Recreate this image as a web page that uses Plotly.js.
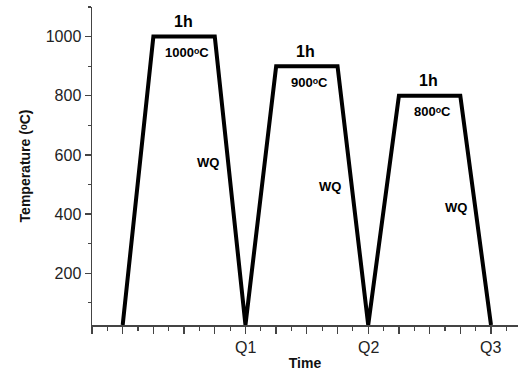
<!DOCTYPE html>
<html>
<head>
<meta charset="utf-8">
<script src="https://cdn.plot.ly/plotly-3.0.1.min.js"></script>
<style>html,body{margin:0;padding:0;background:#fff;}#chart{width:518px;height:371px;}</style>
</head>
<body>
<div id="chart"></div>
<script>
// Heat-treatment schedule (time in arbitrary units, temperature in °C)
const timePts = [1, 2, 4, 5, 6, 8, 9, 10, 12, 13];
const tempPts = [25, 1000, 1000, 25, 900, 900, 25, 800, 800, 25];

// Plateaus
const plateauTemps = [1000, 900, 800];
const plateauMid = [3, 7, 11];
const holdLabel = "1h";

// Quench labels (WQ) positions
const wqX = [3.78, 7.75, 11.86];
const wqY = [574, 493, 422];

// x tick labels
const quenchTicks = [5, 9, 13];
const quenchNames = ["Q1", "Q2", "Q3"];

const yTicks = [200, 400, 600, 800, 1000];

const font = "Liberation Sans, Arial, sans-serif";
const degO = "\u1D52";

const annotations = [];
plateauTemps.forEach((t, i) => {
  annotations.push({x: plateauMid[i], y: t, text: "<b>" + holdLabel + "</b>", showarrow: false,
    yshift: 15, xshift: -1, font: {family: font, size: 16, color: "#000"}});
  annotations.push({x: plateauMid[i], y: t, text: "<b>" + t + degO + "C</b>", showarrow: false,
    yshift: -16, xshift: 3, font: {family: font, size: 13, color: "#000"}});
});
wqX.forEach((x, i) => {
  annotations.push({x: x, y: wqY[i], text: "<b>WQ</b>", showarrow: false,
    font: {family: font, size: 13, color: "#000"}});
});
quenchTicks.forEach((x, i) => {
  annotations.push({x: x, xref: "x", y: 0, yref: "paper", yanchor: "top", yshift: -12,
    text: quenchNames[i], showarrow: false, font: {family: font, size: 16, color: "#222"}});
});

const data = [{
  x: timePts, y: tempPts, type: "scatter", mode: "lines",
  line: {color: "#000", width: 4, shape: "linear"},
  hoverinfo: "none"
}];

const layout = {
  width: 518, height: 371,
  margin: {l: 92, r: 0, t: 7, b: 46},
  paper_bgcolor: "#fff", plot_bgcolor: "#fff",
  showlegend: false,
  font: {family: font, color: "#222"},
  xaxis: {
    range: [0, 13.88], showgrid: false, zeroline: false,
    showline: true, linecolor: "#444", linewidth: 1.5,
    ticks: "outside", ticklen: 7, tickwidth: 1.3, tickcolor: "#444",
    tick0: 0, dtick: 1, showticklabels: false,
    minor: {dtick: 0.5, tick0: 0, ticks: "outside", ticklen: 4, tickwidth: 1.2, tickcolor: "#444", showgrid: false},
    title: {text: "<b>Time</b>", font: {size: 14, color: "#111"}, standoff: 26}
  },
  yaxis: {
    range: [25, 1100], showgrid: false, zeroline: false,
    showline: true, linecolor: "#444", linewidth: 1.5,
    ticks: "outside", ticklen: 6, tickwidth: 1.3, tickcolor: "#444",
    tickmode: "array", tickvals: yTicks,
    tickfont: {size: 16, color: "#222"},
    minor: {dtick: 100, tick0: 0, ticks: "outside", ticklen: 3, tickwidth: 1.2, tickcolor: "#444", showgrid: false},
    title: {text: "<b>Temperature (" + degO + "C)</b>", font: {size: 14, color: "#111"}, standoff: 12}
  },
  annotations: annotations
};

Plotly.newPlot("chart", data, layout, {displayModeBar: false, staticPlot: true});
</script>
</body>
</html>
